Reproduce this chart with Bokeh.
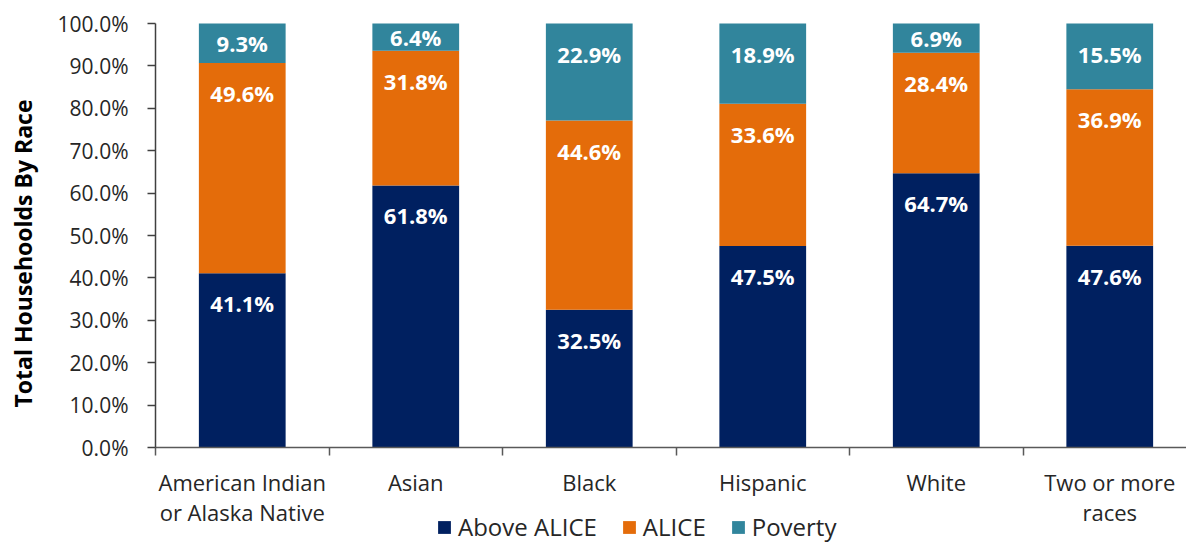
import numpy as np
from bokeh.plotting import figure
from bokeh.models import (Range1d, FixedTicker, PrintfTickFormatter, ColumnDataSource,
                          Legend, LegendItem)
from bokeh.core.properties import value
from bokeh.embed import file_html
from bokeh.resources import INLINE

# ---- data ----
categories = ["American Indian\nor Alaska Native", "Asian", "Black", "Hispanic", "White",
              "Two or more\nraces"]
series_names = ["Above ALICE", "ALICE", "Poverty"]
above_alice = [41.1, 61.8, 32.5, 47.5, 64.7, 47.6]
alice = [49.6, 31.8, 44.6, 33.6, 28.4, 36.9]
poverty = [9.3, 6.4, 22.9, 18.9, 6.9, 15.5]
y_ticks = [0, 10, 20, 30, 40, 50, 60, 70, 80, 90, 100]
y_title = "Total Househoolds By Race"

# ---- layout / style ----
colors = ["#002060", "#E46C0A", "#31859C"]
FONT = "Open Sans"
FIG_W, FIG_H = 1186, 543
AXIS_X_PX = 155          # pixel position of the value axis
TOP_PX = 23              # pixel position of the 100 % line
PLOT_H = 424             # pixel height of the 0..100 % span
SLOT_PX = 173.5          # pixel width of one category slot
BAR_W = 0.5
PX_PER_UNIT = PLOT_H / 100.0
Y_END = 100 + TOP_PX / PX_PER_UNIT
Y_START = -(FIG_H - TOP_PX - PLOT_H) / PX_PER_UNIT
X_START = -AXIS_X_PX / SLOT_PX
X_END = (FIG_W - AXIS_X_PX) / SLOT_PX
LABEL_INSET = 30

n = len(categories)
xs = np.arange(n) + 0.5

p = figure(width=FIG_W, height=FIG_H,
           x_range=Range1d(X_START, X_END), y_range=Range1d(Y_START, Y_END),
           output_backend="svg", toolbar_location=None,
           min_border_left=0, min_border_right=0,
           min_border_top=0, min_border_bottom=0)
p.outline_line_color = None
p.xgrid.visible = False
p.ygrid.visible = False
p.background_fill_color = "white"
p.border_fill_color = "white"

bottom = np.zeros(n)
items = []
for name, vals, color in zip(series_names, [above_alice, alice, poverty], colors):
    vals = np.array(vals, dtype=float)
    top = bottom + vals
    yoff = np.minimum(LABEL_INSET, vals * PX_PER_UNIT / 2.0)
    src = ColumnDataSource(dict(x=xs, bottom=bottom, top=top,
                                label=[f"{v:.1f}%" for v in vals], yoff=yoff))
    r = p.vbar(x="x", bottom="bottom", top="top", width=BAR_W, source=src,
               fill_color=color, line_color=None)
    p.text(x="x", y="top", text="label", y_offset="yoff", source=src,
           text_align="center", text_baseline="middle", text_color="white",
           text_font=value(FONT), text_font_style="bold", text_font_size="22px")
    items.append(LegendItem(label=name, renderers=[r]))
    bottom = top

# ---- x axis (pinned at 0 %) ----
xa = p.xaxis[0]
xa.fixed_location = 0
xa.bounds = (0, X_END)
xa.ticker = FixedTicker(ticks=list(xs), minor_ticks=list(range(n + 1)))
xa.major_label_overrides = {float(x): c for x, c in zip(xs, categories)}
xa.major_tick_out = 0
xa.major_tick_in = 0
xa.minor_tick_out = 8
xa.minor_tick_in = 0
xa.minor_tick_line_color = "#595959"
xa.minor_tick_line_width = 1.5
xa.axis_line_color = "#595959"
xa.axis_line_width = 1.5
xa.major_label_standoff = 11
xa.major_label_text_font = FONT
xa.major_label_text_font_size = "22px"
xa.major_label_text_color = "#262626"
xa.major_label_text_line_height = 1.03

# ---- y axis (pinned at the first category edge) ----
ya = p.yaxis[0]
ya.fixed_location = 0
ya.bounds = (0, 100)
ya.ticker = FixedTicker(ticks=y_ticks)
ya.formatter = PrintfTickFormatter(format="%.1f%%")
ya.major_tick_out = 8
ya.major_tick_in = 0
ya.minor_tick_out = 0
ya.minor_tick_in = 0
ya.major_tick_line_color = "#404040"
ya.major_tick_line_width = 1.5
ya.axis_line_color = "#404040"
ya.axis_line_width = 1.5
ya.major_label_standoff = 19
ya.major_label_text_font = FONT
ya.major_label_text_font_size = "21px"
ya.major_label_text_color = "#262626"

# y title, rotated, left of the tick labels
p.text(x=[0], y=[50], text=[y_title], x_offset=-133, y_offset=18, angle=np.pi / 2,
       text_align="center", text_baseline="middle", text_color="#000000",
       text_font=value(FONT), text_font_style="bold", text_font_size="23px")

# ---- legend ----
legend = Legend(items=items, location=(436, 0), orientation="horizontal",
                glyph_width=16, glyph_height=16, label_standoff=6, spacing=24,
                padding=0, margin=0, border_line_color=None, background_fill_alpha=0,
                label_text_font=FONT, label_text_font_size="24px",
                label_text_color="#262626")
p.add_layout(legend)

open("out.html", "w").write(file_html(p, INLINE))
